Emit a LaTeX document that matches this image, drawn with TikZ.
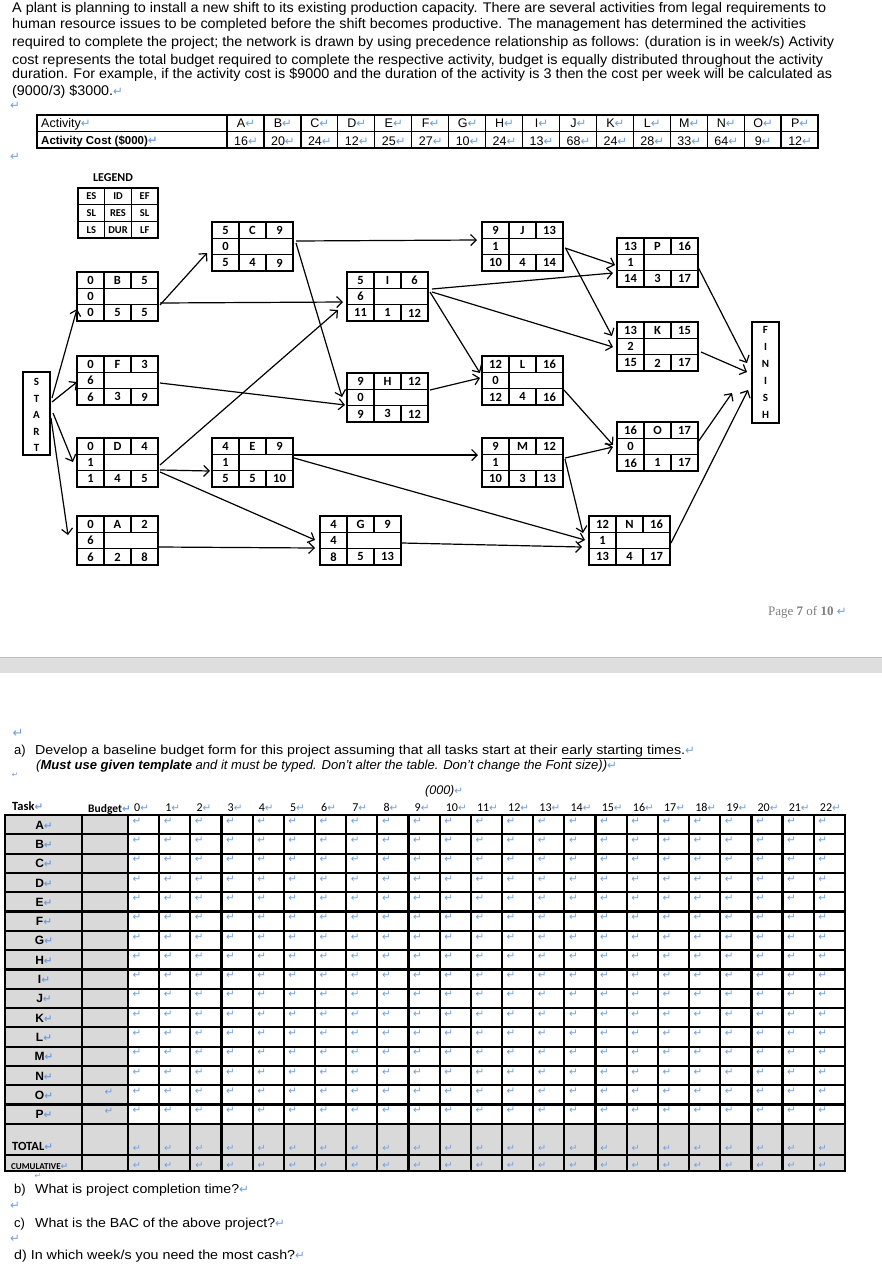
\documentclass[tikz,border=0pt]{standalone}
\usepackage{fontspec}
\usepackage{graphicx}
\setmainfont{Liberation Sans}
\newfontfamily\carl{Carlito}
\newfontfamily\retfont{DejaVu Sans}
\newfontfamily\timesf{Liberation Serif}
\usetikzlibrary{arrows.meta,calc}
\definecolor{retblue}{HTML}{6E9FE0}
\definecolor{cellgray}{HTML}{D9D9D9}
\definecolor{bandgray}{HTML}{DEDEDE}
\definecolor{pagegray}{HTML}{7F7F7F}
\newcommand\fs[1]{\fontsize{#1}{#1}\selectfont}
\newcommand\ret[1][8]{{\pgfmathsetmacro\retsz{#1*1.3}\retfont\fontsize{\retsz}{\retsz}\selectfont\color{retblue}↵}}
\newsavebox\linebox
\newcommand\fitline[2]{\sbox\linebox{#2}\pgfmathsetmacro\fitratio{#1/\the\wd\linebox}\scalebox{\fitratio}[1]{\usebox\linebox}}
\tikzset{
  abox/.style={draw, line width=1.2pt, minimum width=81pt, minimum height=49pt, anchor=north west, inner sep=0pt, outer sep=0pt},
  gridl/.style={line width=1.1pt},
  nt/.style={inner sep=0pt, font={\carl\bfseries\fs{12.5}}},
  lt/.style={inner sep=0pt, font={\carl\bfseries\fs{10.5}}},
  sf/.style={draw, line width=2.5pt, minimum width=27pt, anchor=north west, inner sep=0pt, outer sep=0pt},
  sfl/.style={inner sep=0pt, font={\carl\bfseries\fs{11}}},
  arr/.style={line width=1.2pt, -{Straight Barb[length=5.5pt,width=11pt]}},
  ptxt/.style={anchor=base west, inner sep=0pt, font={\fs{13}}},
  ptop/.style={anchor=base west, inner sep=0pt, font={\fs{14}}},
  tline/.style={line width=2.2pt, line cap=rect},
  hnum/.style={anchor=base west, inner sep=0pt, font={\carl\fs{12}}},
}
\newcommand\actbox[8]{%
  \node[abox] (#1) at #2 {};
  \begin{scope}[shift={#2}]
    \draw[gridl] (0,16.33) -- (81,16.33) (0,32.67) -- (81,32.67)
      (27,0) -- (27,49) (54,0) -- (54,16.33) (54,32.67) -- (54,49);
    \node[nt] at (13.5,8.3) {#3};
    \node[nt] at (40.5,8.3) {#1};
    \node[nt] at (67.5,8.3) {#4};
    \node[nt] at (13.5,24.6) {#5};
    \node[nt] at (13.5,40.9) {#6};
    \node[nt] at (40.5,40.9) {#7};
    \node[nt] at (67.5,40.9) {#8};
  \end{scope}}
\begin{document}
\begin{tikzpicture}[x=1pt,y=-1pt]
\useasboundingbox (0,0) rectangle (882,1264);
\fill[white] (0,0) rectangle (882,1264);

% ---------- intro paragraph ----------
\node[ptop] (p1) at (12,12.8) {\fitline{814}{A plant is planning to install a new shift to its existing production capacity. There are several activities from legal requirements to}};
\node[ptop] (p2) at (12,28.8) {\fitline{794}{human resource issues to be completed before the shift becomes productive. The management has determined the activities}};
\node[ptop] (p3) at (12,46.8) {\fitline{822}{required to complete the project; the network is drawn by using precedence relationship as follows: (duration is in week/s) Activity}};
\node[ptop] (p4) at (12,64.8) {\fitline{811}{cost represents the total budget required to complete the respective activity, budget is equally distributed throughout the activity}};
\node[ptop] (p5) at (12,78.8) {\fitline{820}{duration. For example, if the activity cost is \$9000 and the duration of the activity is 3 then the cost per week will be calculated as}};
\node[ptop] (p6) at (12,95.8) {\fitline{101}{(9000/3) \$3000.}\ret[9]};
\node[inner sep=0pt] (r1) at (15,106) {\ret[9]};

% ---------- cost table ----------
\draw[line width=2pt] (37,115) rectangle (818,148);
\draw[line width=1.3pt] (37,131.5) -- (818,131.5);
\foreach \k in {0,...,15} \draw[line width=1.3pt] ({227+36.94*\k},115) -- ({227+36.94*\k},148);
\node[anchor=base west, inner sep=0pt, font={\fs{12.5}}] (act) at (41,127.5) {Activity\ret[9]};
\node[anchor=base west, inner sep=0pt, font={\bfseries\fs{11.5}}] (actc) at (41,144.5) {Activity Cost (\$000)\ret[9]};
\foreach \l [count=\k from 0] in {A,...,P}
  \node[anchor=base, inner sep=0pt, font={\fs{12.5}}] at ({227+36.94*\k+19},127.5) {\l\ret[9]};
\foreach \v [count=\k from 0] in {16,20,24,12,25,27,10,24,13,68,24,28,33,64,9,12}
  \node[anchor=base, inner sep=0pt, font={\fs{12.5}}] at ({227+36.94*\k+19},145.5) {\v\ret[9]};
\node[inner sep=0pt] (r2) at (15,157) {\ret[9]};

% ---------- legend ----------
\node[inner sep=0pt, font={\carl\bfseries\fs{12}}] (leg) at (113,178) {LEGEND};
\draw[gridl] (78,188) rectangle (158,238)
  (78,204.7) -- (158,204.7) (78,221.3) -- (158,221.3)
  (104.7,188) -- (104.7,238) (131.3,188) -- (131.3,238);
\node[lt] at (91.3,196.3) {ES}; \node[lt] at (118,196.3) {ID}; \node[lt] at (144.7,196.3) {EF};
\node[lt] at (91.3,213) {SL}; \node[lt] at (118,213) {RES}; \node[lt] at (144.7,213) {SL};
\node[lt] at (91.3,229.7) {LS}; \node[lt] at (118,229.7) {DUR}; \node[lt] at (144.7,229.7) {LF};

% ---------- start / finish ----------
\node[sf, minimum height=83pt] (START) at (23,372) {};
\foreach \c [count=\i from 0] in {S,T,A,R,T}
  \node[sfl] at (36.5,{382+16.5*\i}) {\c};
\node[sf, minimum height=101pt] (FINISH) at (752,322) {};
\foreach \c [count=\i from 0] in {F,I,N,I,S,H}
  \node[sfl] at (765.5,{330+16.9*\i}) {\c};

% ---------- activity boxes ----------
\actbox{B}{(77,272)}{0}{5}{0}{0}{5}{5}
\actbox{C}{(212,222)}{5}{9}{0}{5}{4}{9}
\actbox{F}{(77,356)}{0}{3}{6}{6}{3}{9}
\actbox{D}{(77,438)}{0}{4}{1}{1}{4}{5}
\actbox{A}{(77,516)}{0}{2}{6}{6}{2}{8}
\actbox{E}{(212,438)}{4}{9}{1}{5}{5}{10}
\actbox{G}{(320,516)}{4}{9}{4}{8}{5}{13}
\actbox{I}{(347,272)}{5}{6}{6}{11}{1}{12}
\actbox{H}{(347,373)}{9}{12}{0}{9}{3}{12}
\actbox{J}{(482,222)}{9}{13}{1}{10}{4}{14}
\actbox{L}{(482,356)}{12}{16}{0}{12}{4}{16}
\actbox{M}{(482,438)}{9}{12}{1}{10}{3}{13}
\actbox{P}{(617,238)}{13}{16}{1}{14}{3}{17}
\actbox{K}{(617,322)}{13}{15}{2}{15}{2}{17}
\actbox{O}{(617,422)}{16}{17}{0}{16}{1}{17}
\actbox{N}{(589,516)}{12}{16}{1}{13}{4}{17}

% ---------- connectors ----------
\draw[arr] ($(START.north east)+(2,26)$) -- ($(B.north west)+(0,37)$);
\draw[arr] ($(START.north east)+(2,30)$) -- ($(F.north west)+(0,26)$);
\draw[arr] ($(START.north east)+(3,41)$) -- ($(D.north west)+(-4,24)$);
\draw[arr] ($(START.north east)+(1,46)$) -- ($(A.north west)+(-9,19)$);
\draw[arr] ($(B.north east)+(2,33)$) -- ($(C.north west)+(-5,31)$);
\draw[arr] ($(B.north east)+(2,31)$) -- ($(I.north west)+(-4,30)$);
\draw[arr] ($(C.north east)+(3,19)$) -- ($(J.north west)+(-5,18)$);
\draw[arr] ($(C.north east)+(3,21)$) -- ($(H.north west)+(-5,24)$);
\draw[arr] ($(F.north east)+(2,27)$) -- ($(H.north west)+(-2,32)$);
\draw[arr] ($(D.north east)+(2,27)$) -- ($(I.north west)+(-9,38)$);
\draw[arr] ($(D.north east)+(2,32)$) -- ($(E.north west)+(-2,33)$);
\draw[arr] ($(D.north east)+(2,34)$) -- ($(G.north west)+(-5,24)$);
\draw[arr] ($(A.north east)+(1,31)$) -- ($(G.north west)+(-5,32)$);
\draw[arr] ($(E.north east)+(1,17)$) -- ($(M.north west)+(-4,17)$);
\draw[arr] ($(E.north east)+(1,20)$) -- ($(N.north west)+(-4,24)$);
\draw[arr] ($(G.north east)+(1,27)$) -- ($(N.north west)+(-7,31)$);
\draw[arr] ($(I.north east)+(4,17)$) -- ($(P.north west)+(-4,35)$);
\draw[arr] ($(I.north east)+(4,20)$) -- ($(K.north west)+(-4,25)$);
\draw[arr] ($(I.north east)+(2,20)$) -- ($(L.north west)+(-2,17)$);
\draw[arr] ($(H.north east)+(2,17)$) -- ($(L.north west)+(-2,22)$);
\draw[arr] ($(J.north east)+(2,26)$) -- ($(P.north west)+(-2,27)$);
\draw[arr] ($(J.north east)+(3,27)$) -- ($(K.north west)+(-5,14)$);
\draw[arr] ($(L.north east)+(1,34)$) -- ($(O.north west)+(-4,23)$);
\draw[arr] ($(M.north east)+(2,20)$) -- ($(O.north west)+(-4,25)$);
\draw[arr] ($(M.north east)+(2,21)$) -- ($(N.north west)+(-6,17)$);
\draw[arr] ($(P.north east)+(0,29)$) -- ($(FINISH.north west)+(-5,41)$);
\draw[arr] ($(K.north east)+(3,30)$) -- ($(FINISH.north west)+(-5,50)$);
\draw[arr] ($(O.north east)+(0,20)$) -- ($(FINISH.north west)+(-20,71)$);
\draw[arr] ($(N.north east)+(1,27)$) -- ($(FINISH.north west)+(-4,68)$);

% ---------- page footer & break ----------
\node[anchor=base west, inner sep=0pt, font={\timesf\fs{13}}, text=pagegray] (pg) at (768,615) {Page \textbf{7} of \textbf{10} \ret[9]};
\fill[bandgray] (0,657) rectangle (882,673);
\draw[line width=0.8pt, color=black!25] (0,657) -- (882,657);

% ---------- part a ----------
\node[inner sep=0pt] (r3) at (18,733) {\ret[10]};
\node[ptxt] (qa) at (14,754.5) {a)};
\node[ptxt] (qa1) at (35,754.5) {\fitline{650}{Develop a baseline budget form for this project assuming that all tasks start at their \underline{early starting times}.}\ret[9]};
\node[ptxt] (qa2) at (36,769.5) {\fitline{571}{\itshape(\textbf{Must use given template} and it must be typed. Don’t alter the table. Don’t change the Font size))}\ret[9]};
\node[inner sep=0pt] (r4) at (15,775) {\ret[6]};
\node[anchor=base west, inner sep=0pt, font={\itshape\fs{12.5}}] (k000) at (425,794) {(000)\ret[8]};

% ---------- budget table ----------
\fill[cellgray] (5,815) rectangle (128,1171);
\fill[cellgray] (128,1124) rectangle (845,1171);
\foreach \r in {0,...,16} \draw[tline] (5,{815+19.3*\r}) -- (845,{815+19.3*\r});
\draw[tline] (5,1155) -- (845,1155);
\draw[tline] (5,1171) -- (845,1171);
\draw[tline] (5,815) -- (5,1171);
\draw[tline] (82,815) -- (82,1171);
\foreach \c in {0,...,23} \draw[tline] ({128+31.17*\c},815) -- ({128+31.17*\c},1171);
\node[anchor=base west, inner sep=0pt, font={\carl\bfseries\fs{12.5}}] (task) at (12,810) {Task\ret[8]};
\node[anchor=base west, inner sep=0pt, font={\carl\bfseries\fs{11.5}}] (budget) at (88,812) {Budget\ret[8]};
\foreach \c in {0,...,22} \node[hnum] at ({128+31.17*\c+6},811) {\c\ret[8]};
\foreach \t [count=\i from 0] in {A,...,P}
  \node[inner sep=0pt, font={\bfseries\fs{12}}] at (44,{815+19.3*\i+10}) {\t\ret[8]};
\foreach \r in {0,...,15}
  \foreach \c in {0,...,22}
    \node[inner sep=0pt] at ({128+31.17*\c+9},{815+19.3*\r+6}) {\ret[8]};
\node[inner sep=0pt] at (109,{815+19.3*14+7}) {\ret[8]};
\node[inner sep=0pt] at (109,{815+19.3*15+7}) {\ret[8]};
\node[anchor=base west, inner sep=0pt, font={\carl\bfseries\fs{12.5}}] (total) at (12,1150) {TOTAL\ret[8]};
\node[anchor=base west, inner sep=0pt, font={\carl\bfseries\fs{9}}] (cum) at (11,1169) {CUMULATIVE\ret[7]};
\foreach \c in {0,...,22} \node[inner sep=0pt] at ({128+31.17*\c+9},1148) {\ret[7.5]};
\foreach \c in {0,...,22} \node[inner sep=0pt] at ({128+31.17*\c+9},1165) {\ret[7.5]};

% ---------- parts b-d ----------
\node[inner sep=0pt] (r5) at (38,1176) {\ret[6]};
\node[ptxt] (qb) at (14,1193.5) {b)};
\node[ptxt] (qb1) at (35,1193.5) {\fitline{204}{What is project completion time?}\ret[9]};
\node[inner sep=0pt] (r6) at (15,1206) {\ret[9]};
\node[ptxt] (qc) at (14,1227.5) {c)};
\node[ptxt] (qc1) at (35,1227.5) {\fitline{240}{What is the BAC of the above project?}\ret[9]};
\node[inner sep=0pt] (r7) at (15,1239) {\ret[9]};
\node[ptxt] (qd) at (14,1259.5) {\fitline{281}{d) In which week/s you need the most cash?}\ret[9]};
\end{tikzpicture}
\end{document}
